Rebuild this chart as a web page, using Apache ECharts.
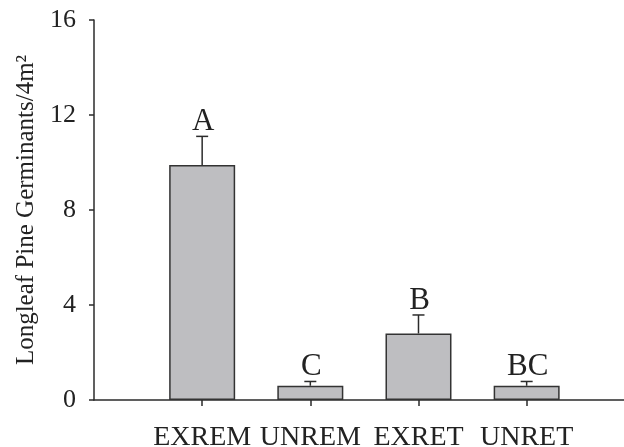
<!DOCTYPE html>
<html>
<head>
<meta charset="utf-8">
<script src="https://cdn.jsdelivr.net/npm/echarts@6/dist/echarts.min.js"></script>
<style>html,body{margin:0;padding:0;background:#fff;}#c{width:624px;height:447px;}</style>
</head>
<body>
<div id="c"></div>
<script>
var categories = ['EXREM', 'UNREM', 'EXRET', 'UNRET'];
var means = [9.9, 0.6, 2.8, 0.6];
var stdErrors = [1.2, 0.18, 0.78, 0.18];
var groupLetters = ['A', 'C', 'B', 'BC'];
var yTicks = [0, 4, 8, 12, 16];

var FONT = '"Liberation Serif", "Times New Roman", serif';
var INK = '#2b2b2b';

var barData = categories.map(function (c, i) { return [i + 1, means[i]]; });
var errData = categories.map(function (c, i) { return [i + 1, means[i], means[i] + stdErrors[i], i]; });

var chart = echarts.init(document.getElementById('c'), null, { renderer: 'canvas' });
chart.setOption({
  animation: false,
  backgroundColor: '#ffffff',
  grid: { left: 94, right: 0, top: 20, bottom: 47, containLabel: false, outerBoundsMode: 'none' },
  xAxis: {
    type: 'value',
    min: 0,
    max: 4.9,
    splitLine: { show: false },
    axisLine: { show: true, lineStyle: { color: INK, width: 1.5 } },
    axisTick: { show: true, length: 6, lineStyle: { color: INK, width: 1.5 }, customValues: [1, 2, 3, 4] },
    axisLabel: {
      customValues: [1, 2, 3, 4],
      formatter: function (v) { return categories[Math.round(v) - 1] || ''; },
      fontFamily: FONT, fontSize: 28, color: '#222', margin: 24
    }
  },
  yAxis: {
    type: 'value',
    min: yTicks[0],
    max: yTicks[yTicks.length - 1],
    interval: 4,
    name: 'Longleaf Pine Germinants/4m²',
    nameLocation: 'middle',
    nameRotate: 90,
    nameGap: 55,
    nameTextStyle: { fontFamily: FONT, fontSize: 25, color: '#222' },
    splitLine: { show: false },
    axisLine: { show: true, lineStyle: { color: INK, width: 1.5 } },
    axisTick: { show: true, length: 5, lineStyle: { color: INK, width: 1.5 } },
    axisLabel: { fontFamily: FONT, fontSize: 26, color: '#222', margin: 18 }
  },
  series: [
    {
      type: 'bar',
      data: barData,
      barWidth: 66,
      itemStyle: { color: '#bebec1', borderColor: '#333', borderWidth: 1.5 },
      z: 2
    },
    {
      type: 'custom',
      data: errData,
      z: 3,
      renderItem: function (params, api) {
        var x = api.value(0);
        var lo = api.coord([x, api.value(1)]);
        var hi = api.coord([x, api.value(2)]);
        var idx = api.value(3);
        var cap = 6;
        return {
          type: 'group',
          children: [
            { type: 'line', shape: { x1: lo[0], y1: lo[1], x2: hi[0], y2: hi[1] }, style: { stroke: INK, lineWidth: 1.5 } },
            { type: 'line', shape: { x1: hi[0] - cap, y1: hi[1], x2: hi[0] + cap, y2: hi[1] }, style: { stroke: INK, lineWidth: 1.5 } },
            { type: 'text', style: { text: groupLetters[idx], x: hi[0] + 1, y: hi[1] + 1, align: 'center', verticalAlign: 'bottom', fontFamily: FONT, fontSize: 31, fill: '#222' } }
          ]
        };
      }
    }
  ]
});
</script>
</body>
</html>
